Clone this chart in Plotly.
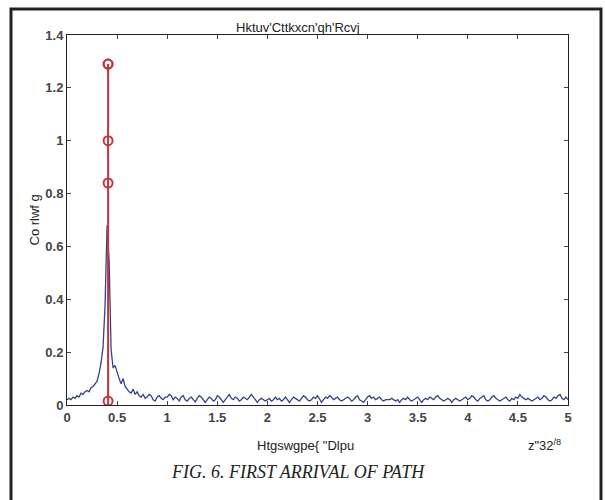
import plotly.graph_objects as go

# Frequency-bin axis (step 0.02 from 0 to 5)
x_step = 0.02
amplitude = [
    0.02, 0.025, 0.02, 0.03, 0.025, 0.035, 0.03, 0.045, 0.04, 0.05,
    0.055, 0.05, 0.065, 0.07, 0.08, 0.09, 0.12, 0.16, 0.22, 0.38,
    0.68, 0.55, 0.21, 0.14, 0.15, 0.12, 0.10, 0.08, 0.10, 0.07,
    0.06, 0.05, 0.045, 0.06, 0.04, 0.05, 0.035, 0.03, 0.04, 0.025,
    0.03, 0.04, 0.035, 0.02, 0.015, 0.03, 0.035, 0.025, 0.02, 0.03,
    0.03, 0.04, 0.035, 0.02, 0.03, 0.025, 0.015, 0.03, 0.035, 0.02,
    0.015, 0.025, 0.03, 0.02, 0.012, 0.025, 0.035, 0.03, 0.02, 0.01,
    0.02, 0.03, 0.025, 0.015, 0.02, 0.035, 0.03, 0.02, 0.01, 0.02,
    0.03, 0.04, 0.025, 0.02, 0.03, 0.025, 0.015, 0.02, 0.03, 0.025,
    0.02, 0.03, 0.04, 0.03, 0.02, 0.01, 0.02, 0.025, 0.02, 0.015,
    0.02, 0.025, 0.015, 0.02, 0.03, 0.02, 0.025, 0.015, 0.02, 0.03,
    0.02, 0.01, 0.02, 0.03, 0.025, 0.02, 0.015, 0.025, 0.035, 0.03,
    0.02, 0.015, 0.02, 0.03, 0.025, 0.035, 0.02, 0.01, 0.02, 0.03,
    0.025, 0.035, 0.03, 0.02, 0.025, 0.03, 0.02, 0.015, 0.02, 0.025,
    0.03, 0.025, 0.015, 0.02, 0.03, 0.035, 0.02, 0.015, 0.01, 0.02,
    0.03, 0.035, 0.025, 0.03, 0.02, 0.025, 0.03, 0.02, 0.015, 0.02,
    0.02, 0.02, 0.025, 0.02, 0.015, 0.02, 0.01, 0.02, 0.025, 0.02,
    0.03, 0.02, 0.015, 0.02, 0.025, 0.03, 0.02, 0.01, 0.02, 0.025,
    0.02, 0.03, 0.025, 0.02, 0.03, 0.035, 0.025, 0.02, 0.015, 0.02,
    0.025, 0.02, 0.01, 0.02, 0.025, 0.02, 0.015, 0.02, 0.025, 0.03,
    0.02, 0.025, 0.035, 0.03, 0.02, 0.015, 0.025, 0.03, 0.035, 0.02,
    0.015, 0.02, 0.03, 0.035, 0.025, 0.02, 0.015, 0.02, 0.025, 0.03,
    0.02, 0.015, 0.025, 0.02, 0.03, 0.025, 0.04, 0.03, 0.025, 0.02,
    0.025, 0.02, 0.015, 0.02, 0.025, 0.03, 0.02, 0.025, 0.035, 0.03,
    0.02, 0.015, 0.02, 0.03, 0.025, 0.035, 0.04, 0.025, 0.02, 0.03,
    0.02,
]
freq = [round(i * x_step, 4) for i in range(len(amplitude))]

# First-arrival stem
stem_x = [0.41, 0.41, 0.41, 0.41, 0.41]
stem_y = [0.015, 0.84, 1.0, 1.29, 1.29]
stem_top = 1.29

x_ticks = [0, 0.5, 1, 1.5, 2, 2.5, 3, 3.5, 4, 4.5, 5]
y_ticks = [0, 0.2, 0.4, 0.6, 0.8, 1, 1.2, 1.4]

title_text = "Hktuv'Cttkxcn'qh'Rcvj"
xlabel_text = 'Htgswgpe{ "Dlpu'
ylabel_text = "Co rlwf g"
scale_text = 'z"32<sup>/8</sup>'
caption_text = "FIG. 6. FIRST ARRIVAL OF PATH"

fig = go.Figure()
fig.add_trace(go.Scatter(x=freq, y=amplitude, mode="lines",
                         line=dict(color="#33418f", width=1.3),
                         showlegend=False, hoverinfo="skip"))
fig.add_trace(go.Scatter(x=[stem_x[0], stem_x[0]], y=[0, stem_top], mode="lines",
                         line=dict(color="#c8343a", width=2),
                         showlegend=False, hoverinfo="skip"))
fig.add_trace(go.Scatter(x=stem_x, y=stem_y, mode="markers",
                         marker=dict(symbol="circle-open", size=9,
                                     color="#c8343a", line=dict(width=2)),
                         showlegend=False, hoverinfo="skip"))

L, R, T, B = 67, 37, 35, 95
W, H = 605, 500
pw, ph = W - L - R, H - T - B

def px_x(p):
    return (p - L) / pw

def px_y(p):
    return (H - B - p) / ph

tickfont = dict(size=13, color="#444", family="Liberation Sans, Arial", weight="bold")

fig.update_layout(
    width=W, height=H,
    margin=dict(l=L, r=R, t=T, b=B),
    paper_bgcolor="white", plot_bgcolor="white",
    font=dict(family="Liberation Sans, Arial", color="#333333"),
    xaxis=dict(range=[0, 5], tickvals=x_ticks, ticks="inside", ticklen=4,
               showline=True, linecolor="#222", linewidth=1, mirror="ticks",
               showgrid=False, zeroline=False, tickfont=tickfont),
    yaxis=dict(range=[0, 1.4], tickvals=y_ticks, ticks="inside", ticklen=4,
               showline=True, linecolor="#222", linewidth=1, mirror="ticks",
               showgrid=False, zeroline=False, tickfont=tickfont),
    shapes=[dict(type="rect", xref="paper", yref="paper",
                 x0=px_x(11), x1=px_x(601), y0=px_y(530), y1=px_y(9),
                 line=dict(color="#222", width=3), fillcolor="rgba(0,0,0,0)")],
    annotations=[
        dict(text=title_text, xref="paper", yref="paper", x=px_x(298), y=px_y(18),
             showarrow=False, font=dict(size=13, color="#222")),
        dict(text=xlabel_text, xref="paper", yref="paper", x=px_x(305), y=px_y(455),
             showarrow=False, font=dict(size=13, color="#222")),
        dict(text=ylabel_text, xref="paper", yref="paper", x=px_x(24), y=px_y(220),
             showarrow=False, textangle=-90, font=dict(size=13, color="#222")),
        dict(text=scale_text, xref="paper", yref="paper", x=px_x(563), y=px_y(455),
             showarrow=False, font=dict(size=13, color="#222")),
        dict(text="<i>" + caption_text + "</i>", xref="paper", yref="paper",
             x=px_x(298), y=px_y(484), showarrow=False,
             font=dict(size=18, color="#222", family="Liberation Serif, Times New Roman")),
    ],
)

fig.write_html("out.html")
